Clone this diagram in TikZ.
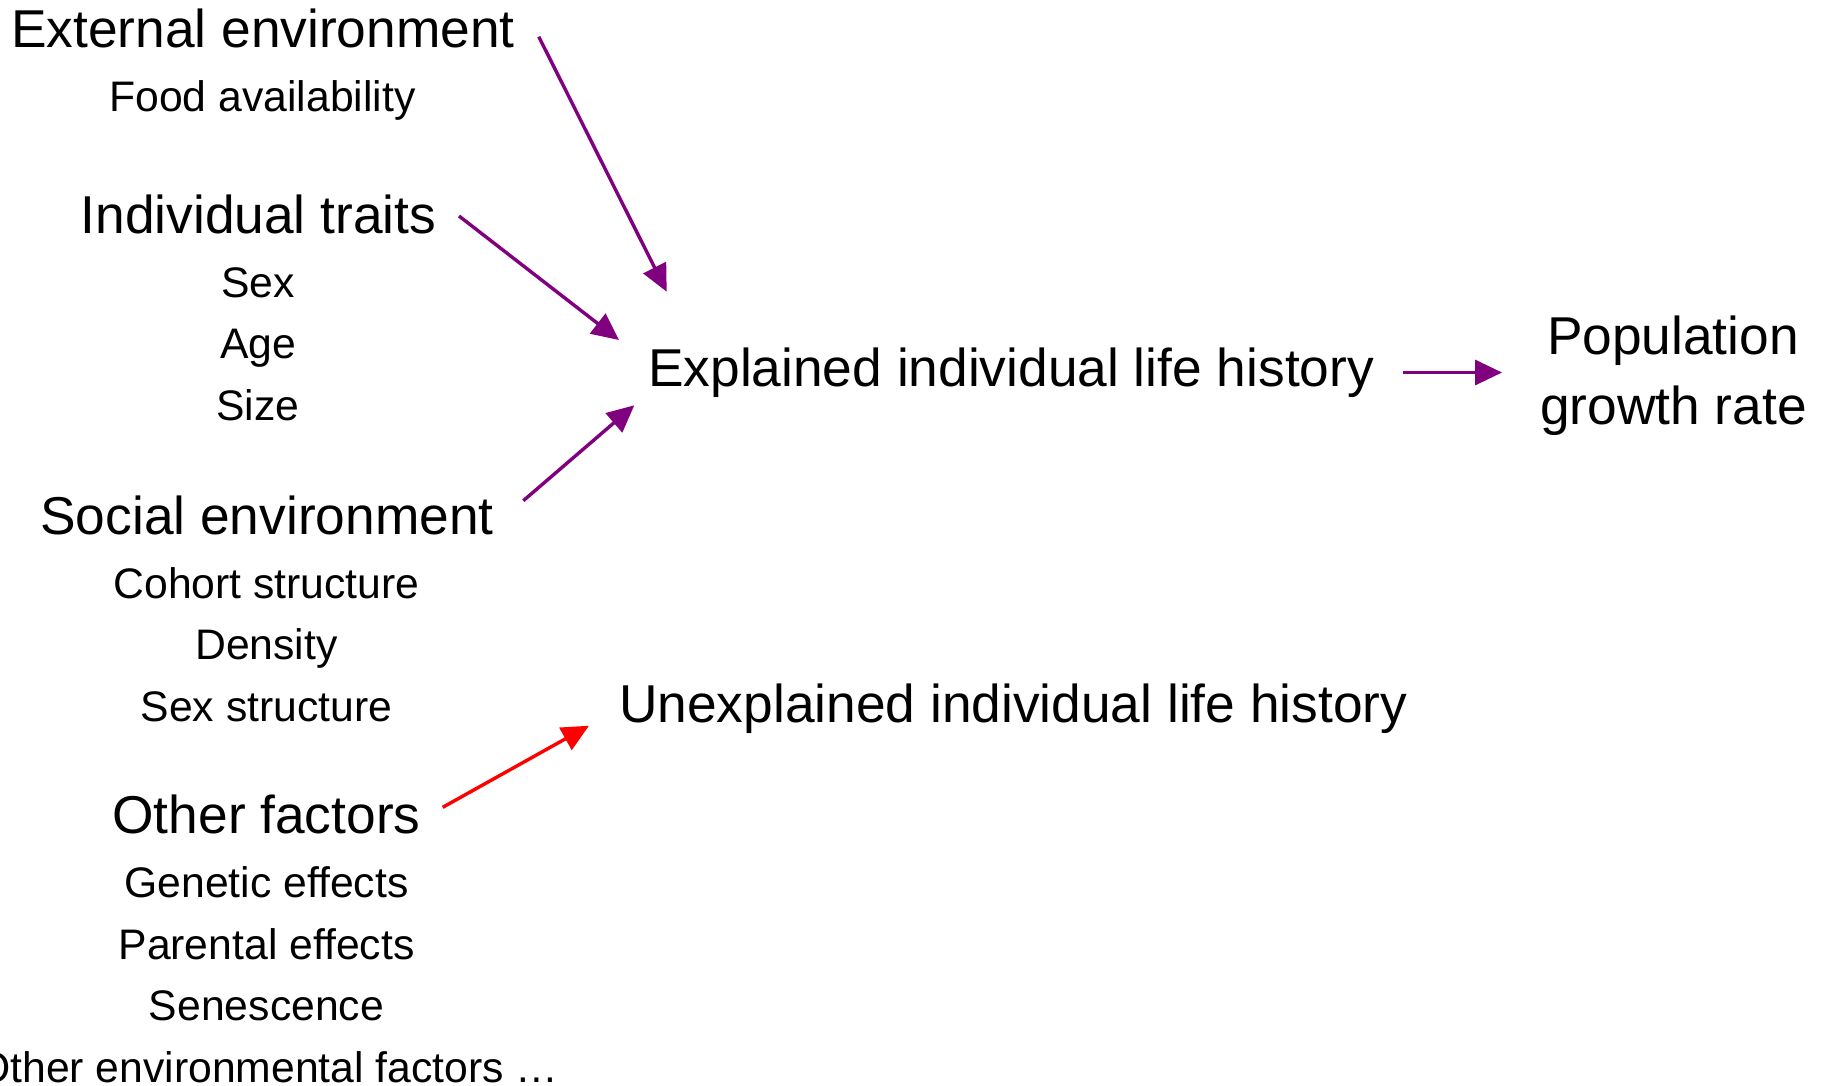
\documentclass[tikz,border=0pt]{standalone}
\usepackage{fontspec}
\setmainfont{Liberation Sans}
\usetikzlibrary{arrows.meta}
\definecolor{purp}{HTML}{800080}
\definecolor{redc}{HTML}{FF0000}
\begin{document}
\begin{tikzpicture}[x=1pt,y=-1pt,
  big/.style={font=\fontsize{53.3}{60}\selectfont, anchor=base, inner sep=0pt},
  small/.style={font=\fontsize{42.7}{50}\selectfont, anchor=base, inner sep=0pt},
  conn/.style={line width=3.4pt, -{Triangle[length=27pt,width=25pt]}},
  parrow/.style={conn, draw=purp},
  rarrow/.style={conn, draw=redc}]
\useasboundingbox (0,0) rectangle (1821,1085);
\fill[white] (0,0) rectangle (1821,1085);
% left column
\node[big] (ext) at (263,47) {External environment};
\node[small] (food) at (262.5,111.5) {Food availability};
\node[big] (ind) at (258.4,233.4) {Individual traits};
\node[small] (sex) at (258,297.3) {Sex};
\node[small] (age) at (258,358.9) {Age};
\node[small] (size) at (258,420.4) {Size};
\node[big] (soc) at (267,534.2) {Social environment};
\node[small] (coh) at (266.5,598.1) {Cohort structure};
\node[small] (dens) at (266.5,659.7) {Density};
\node[small] (sexs) at (266.5,721.2) {Sex structure};
\node[big] (oth) at (266.5,833.9) {Other factors};
\node[small] (gen) at (266.5,897.8) {Genetic effects};
\node[small] (par) at (266.5,959.3) {Parental effects};
\node[small] (sen) at (266.5,1020.9) {Senescence};
\node[small] (oenv) at (268,1082.4) {Other environmental factors …};
% middle / right
\node[big, anchor=base west] (expl) at (648,386.5) {Explained individual life history};
\node[big, anchor=base west] (unex) at (619,722.3) {Unexplained individual life history};
\node[big] (pop1) at (1673,354.5) {Population};
\node[big] (pop2) at (1673.5,424) {growth rate};
% connector end points
\coordinate (a1s) at (538.8,36.7);
\coordinate (a1e) at (666.7,291.7);
\coordinate (a2s) at (459,216);
\coordinate (a2e) at (619,340);
\coordinate (a3s) at (523.3,500.7);
\coordinate (a3e) at (634.3,405.3);
\coordinate (a4s) at (1403,372.5);
\coordinate (a4e) at (1502,372.5);
\coordinate (a5s) at (442.7,807.3);
\coordinate (a5e) at (589,725.7);
\draw[parrow] (a1s) -- (a1e);
\draw[parrow] (a2s) -- (a2e);
\draw[parrow] (a3s) -- (a3e);
\draw[parrow] (a4s) -- (a4e);
\draw[rarrow] (a5s) -- (a5e);
\end{tikzpicture}
\end{document}
